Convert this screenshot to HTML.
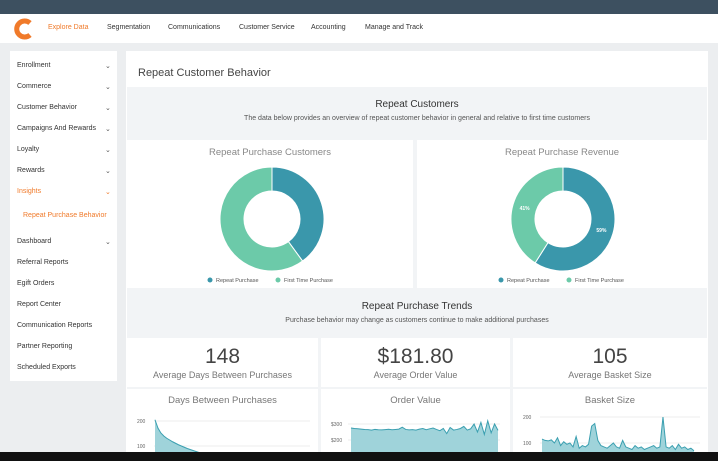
<!DOCTYPE html>
<html><head><meta charset="utf-8">
<style>
*{box-sizing:border-box;margin:0;padding:0}
body{width:718px;height:461px;overflow:hidden;background:#eceef0;font-family:"Liberation Sans",sans-serif;position:relative;color:#444}
.abs{position:absolute}
.topbar{left:0;top:0;width:718px;height:14px;background:#3d5060}
.nav{left:0;top:14px;width:718px;height:29px;background:#fff}
.nav span{position:absolute;top:10px;font-size:7px;color:#333}
.side{left:10px;top:51px;width:107px;height:330px;background:#fff}
.side div{position:absolute;left:7px;font-size:7px;color:#333}
.side .chev{left:95px;font-size:7px;color:#555}
.main{left:126px;top:51px;width:582px;height:410px;background:#fff}
.gray{background:#f2f4f6}
.card{background:#fff}
.t{position:absolute;width:100%;text-align:center}
.bottom{left:0;top:452px;width:718px;height:9px;background:#111}
</style></head><body>
<div class="abs topbar"></div>
<div class="abs nav">
<svg class="abs" style="left:13px;top:4px" width="22" height="22"><path d="M17 5 A8 8 0 1 0 17 17" stroke="#f07a2a" stroke-width="5" fill="none"/></svg>
<span style="left:48px;color:#f07a2a">Explore Data</span>
<span style="left:107px">Segmentation</span>
<span style="left:168px">Communications</span>
<span style="left:239px">Customer Service</span>
<span style="left:311px">Accounting</span>
<span style="left:365px">Manage and Track</span>
</div>
<div class="abs side">
<div style="top:11px">Enrollment</div><div class="chev" style="top:11px">⌄</div>
<div style="top:32px">Commerce</div><div class="chev" style="top:32px">⌄</div>
<div style="top:53px">Customer Behavior</div><div class="chev" style="top:53px">⌄</div>
<div style="top:74px">Campaigns And Rewards</div><div class="chev" style="top:74px">⌄</div>
<div style="top:95px">Loyalty</div><div class="chev" style="top:95px">⌄</div>
<div style="top:116px">Rewards</div><div class="chev" style="top:116px">⌄</div>
<div style="top:137px;color:#f07a2a">Insights</div><div class="chev" style="top:137px;color:#f07a2a">⌄</div>
<div style="top:161px;left:13px;color:#f07a2a">Repeat Purchase Behavior</div>
<div style="top:187px">Dashboard</div><div class="chev" style="top:187px">⌄</div>
<div style="top:208px">Referral Reports</div>
<div style="top:229px">Egift Orders</div>
<div style="top:250px">Report Center</div>
<div style="top:271px">Communication Reports</div>
<div style="top:292px">Partner Reporting</div>
<div style="top:313px">Scheduled Exports</div>
</div>
<div class="abs main">
<div class="abs" style="left:12px;top:16px;font-size:11px;color:#444">Repeat Customer Behavior</div>
<div class="abs gray" style="left:1px;top:36px;width:580px;height:53px">
<div class="t" style="top:12px;font-size:10px;color:#333">Repeat Customers</div>
<div class="t" style="top:28px;font-size:7px;color:#555">The data below provides an overview of repeat customer behavior in general and relative to first time customers</div></div>
<div class="abs gray" style="left:1px;top:89px;width:580px;height:148px"></div>
<div class="abs card" style="left:1px;top:89px;width:286px;height:148px"><div class="t" style="top:7px;font-size:9.5px;color:#888">Repeat Purchase Customers</div></div>
<div class="abs card" style="left:291px;top:89px;width:290px;height:148px"><div class="t" style="top:7px;font-size:9.5px;color:#888">Repeat Purchase Revenue</div></div>
<div class="abs gray" style="left:1px;top:237px;width:580px;height:49px">
<div class="t" style="top:13px;font-size:10px;color:#333">Repeat Purchase Trends</div>
<div class="t" style="top:29px;font-size:7px;color:#555">Purchase behavior may change as customers continue to make additional purchases</div></div>
<div class="abs gray" style="left:1px;top:286px;width:580px;height:124px"></div>
<div class="abs card" style="left:1px;top:287px;width:191px;height:49px"><div class="t" style="top:7px;font-size:21px;color:#444">148</div><div class="t" style="top:32px;font-size:9px;color:#777">Average Days Between Purchases</div></div>
<div class="abs card" style="left:195px;top:287px;width:189px;height:49px"><div class="t" style="top:7px;font-size:21px;color:#444">$181.80</div><div class="t" style="top:32px;font-size:9px;color:#777">Average Order Value</div></div>
<div class="abs card" style="left:387px;top:287px;width:194px;height:49px"><div class="t" style="top:7px;font-size:21px;color:#444">105</div><div class="t" style="top:32px;font-size:9px;color:#777">Average Basket Size</div></div>
<div class="abs card" style="left:1px;top:338px;width:191px;height:72px"><div class="t" style="top:6px;font-size:9.5px;color:#777">Days Between Purchases</div></div>
<div class="abs card" style="left:195px;top:338px;width:189px;height:72px"><div class="t" style="top:6px;font-size:9.5px;color:#777">Order Value</div></div>
<div class="abs card" style="left:387px;top:338px;width:194px;height:72px"><div class="t" style="top:6px;font-size:9.5px;color:#777">Basket Size</div></div>
</div>
<svg id="ov" class="abs" style="left:0;top:0" width="718" height="461"></svg>
<div class="abs bottom"></div>
<script>
const donutCats=["Repeat Purchase","First Time Purchase"];
const donut1Vals=[40,60];
const donut2Vals=[59,41];
const daysVals=[205,172,152,140,131,124,117,111,105,100,95,90,86,82,78,74,70,67,64,61,58,55,52,49,46,43,40,37,34,31];
const orderVals=[275,272,270,268,266,265,262,266,264,263,265,267,264,266,268,280,266,263,265,262,268,272,264,270,275,266,258,272,240,278,262,266,272,285,262,270,300,250,310,235,320,245,300,260];
const basketVals=[115,110,108,112,100,120,90,105,95,100,85,125,80,90,85,95,165,175,110,90,85,80,90,100,85,80,110,85,80,75,90,80,85,75,80,85,90,80,85,200,85,80,90,75,95,80,85,75,80,70];
const NS="http://www.w3.org/2000/svg";
const ov=document.getElementById('ov');
const colors=["#3a97ab","#6ccaa9"];
function el(t,a,p){const e=document.createElementNS(NS,t);for(const k in a)e.setAttribute(k,a[k]);(p||ov).appendChild(e);return e;}
function donut(cx,cy,vals,labels,name){
 const R=52,r=28,tot=vals.reduce((a,b)=>a+b,0);let a0=-Math.PI/2;
 vals.forEach((v,i)=>{const a1=a0+v/tot*2*Math.PI,lg=(a1-a0)>Math.PI?1:0;
  const p=`M${cx+R*Math.cos(a0)},${cy+R*Math.sin(a0)} A${R},${R} 0 ${lg} 1 ${cx+R*Math.cos(a1)},${cy+R*Math.sin(a1)} L${cx+r*Math.cos(a1)},${cy+r*Math.sin(a1)} A${r},${r} 0 ${lg} 0 ${cx+r*Math.cos(a0)},${cy+r*Math.sin(a0)} Z`;
  const s=el('path',{d:p,fill:colors[i],stroke:'#fff','stroke-width':1});
  
  
  if(labels){const am=(a0+a1)/2,lr=(R+r)/2;const t=el('text',{x:cx+lr*Math.cos(am),y:cy+lr*Math.sin(am)+2,'font-size':5,'font-weight':'bold',fill:'#fff','text-anchor':'middle'});t.textContent=v+'%';}
  a0=a1;});
 [[cx-62,donutCats[0]],[cx+6,donutCats[1]]].forEach((d,i)=>{
  const c=el('circle',{cx:d[0],cy:cy+61,r:2.5,fill:colors[i]});
  
  
  const t=el('text',{x:d[0]+6,y:cy+63,'font-size':5.5,fill:'#555'});t.textContent=d[1];
  
  });
}
donut(272,219,donut1Vals,false,'customers-donut');
donut(563,219,donut2Vals,true,'revenue-donut');
function area(vals,x0,x1,yAt,base,name){
 const n=vals.length,xs=i=>x0+i*(x1-x0)/(n-1);
 let d=`M${x0},${base}`;vals.forEach((v,i)=>d+=` L${xs(i)},${yAt(v)}`);d+=` L${x1},${base} Z`;
 const a=el('path',{d:d,fill:'#9fd3da',stroke:'none'});
 
 
 let l='';vals.forEach((v,i)=>l+=(i?' L':'M')+xs(i)+','+yAt(v));
 const p=el('path',{d:l,fill:'none',stroke:'#3a9fb0','stroke-width':1});
 
 
}
function ticks(x,arr,yAt,x1){arr.forEach(t=>{el('line',{x1:x,x2:x1,y1:yAt(t[0]),y2:yAt(t[0]),stroke:'#eee'});const tx=el('text',{x:x-17,y:yAt(t[0])+2,'font-size':5,fill:'#666'});tx.textContent=t[1];});}
const dY=v=>446-(v-100)*0.25;
ticks(154,[[200,'200'],[100,'100']],dY,310);
area(daysVals,155,240,dY,452,'days-chart');
const oY=v=>440-(v-200)*0.16;
ticks(348,[[300,'$300'],[200,'$200']],oY,500);
area(orderVals,351,498,oY,452,'order-chart');
const bY=v=>443-(v-100)*0.26;
ticks(540,[[200,'200'],[100,'100']],bY,700);
area(basketVals,542,694,bY,452,'basket-chart');
</script>
</body></html>
